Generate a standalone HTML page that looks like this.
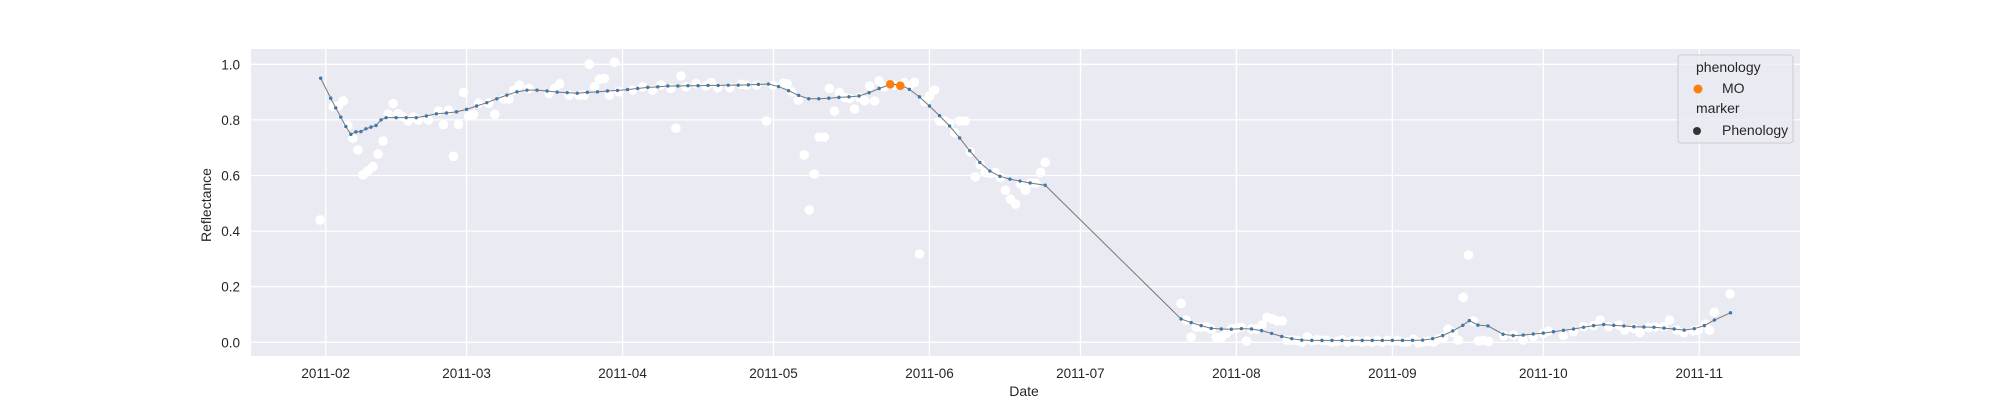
<!DOCTYPE html>
<html><head><meta charset="utf-8"><style>
body{margin:0;background:#fff}
svg text{font-family:"Liberation Sans",Arial,sans-serif;fill:#262626}
</style></head><body>
<svg id="chart" width="2000" height="400" xmlns="http://www.w3.org/2000/svg">
<rect x="251" y="49" width="1549" height="307" fill="#EAEAF2"/>
<g id="grid"></g>
<g id="obs"></g>
<g id="line"></g>
<g id="pheno"></g>
<g id="ticks"></g>
<text transform="translate(211,205) rotate(-90)" text-anchor="middle" font-size="14">Reflectance</text>
<text x="1024" y="396" text-anchor="middle" font-size="14">Date</text>
<g>
<rect x="1678" y="55" width="115" height="88" rx="3" fill="#EAEAF2" fill-opacity="0.8" stroke="#cccccc"/>
<text x="1696" y="72" font-size="14">phenology</text>
<circle cx="1698" cy="89" r="4.5" fill="#ff7f0e"/>
<text x="1722" y="93" font-size="14">MO</text>
<text x="1696" y="113" font-size="14">marker</text>
<circle cx="1697" cy="131" r="4" fill="#333"/>
<text x="1722" y="135" font-size="14">Phenology</text>
</g>
</svg>
<script>
// days since 2011-02-01
const xTickDays=[0,28,59,89,120,150,181,212,242,273];
const xTickLabels=["2011-02","2011-03","2011-04","2011-05","2011-06","2011-07","2011-08","2011-09","2011-10","2011-11"];
const yTicks=[0,0.2,0.4,0.6,0.8,1.0];
const yTickLabels=["0.0","0.2","0.4","0.6","0.8","1.0"];
const lineDays1=[-1,1,2,3,4,5,6,7,8,9,10,11,12,14,16,18,20,22,24,26,28,30,32,34,36,38,40,42,44,46,48,50,52,54,56,58,60,62,64,66,68,70,72,74,76,78,80,82,84,86,88,90,92,94,96,98,100,102,104,106,108,110,112,114,116,118,120,122,124,126,128,130,132,134,136,138,140,143];
const lineVals1=[0.95,0.878,0.843,0.81,0.776,0.748,0.757,0.758,0.768,0.774,0.78,0.80,0.808,0.808,0.808,0.808,0.814,0.822,0.825,0.829,0.838,0.85,0.862,0.876,0.889,0.901,0.907,0.907,0.904,0.90,0.898,0.896,0.899,0.901,0.904,0.906,0.909,0.913,0.917,0.919,0.922,0.922,0.923,0.923,0.924,0.924,0.925,0.925,0.926,0.928,0.929,0.920,0.905,0.888,0.876,0.876,0.878,0.881,0.883,0.886,0.898,0.913,0.926,0.928,0.910,0.883,0.850,0.815,0.778,0.735,0.689,0.647,0.616,0.597,0.587,0.580,0.573,0.565];
const lineDays2=[170,172,174,176,178,180,182,184,186,188,190,192,194,196,198,200,202,204,206,208,210,212,214,216,218,220,222,224,226,227.3,229,231,234,236,238,240,242,244,246,248,250,252,254,256,258,260,262,264,266,268,270,272,274,276,279.2];
const lineVals2=[0.084,0.071,0.060,0.050,0.048,0.047,0.049,0.048,0.042,0.032,0.021,0.013,0.008,0.007,0.007,0.007,0.007,0.007,0.007,0.007,0.007,0.007,0.007,0.007,0.008,0.013,0.024,0.041,0.061,0.078,0.062,0.059,0.029,0.024,0.026,0.030,0.033,0.038,0.043,0.048,0.054,0.060,0.064,0.061,0.059,0.056,0.055,0.054,0.051,0.048,0.044,0.049,0.060,0.080,0.106];
const obsDays=[-1.1,1.5,3.5,2.5,4.4,5.4,6.4,7.4,8.4,9.4,10.4,11.4,12.4,13.4,14.4,15.4,16.4,17.4,18.4,20.4,22.4,23.4,24.4,25.4,26.4,27.4,28.4,29.4,30.4,32.4,33.6,35.4,36.4,37.4,38.5,40.4,44.4,45.5,46.5,48.4,50.4,51.4,52.4,53.4,54.4,55.4,56.4,57.4,58.3,61,63,65,66.6,68.6,69.6,70.6,71.6,73.6,75.6,76.6,77.9,80.3,82.6,83.6,85.6,87.6,88.9,90.9,91.7,92.6,93.9,95.1,96.1,97.1,98.1,99.1,100.1,101.1,102.1,103.1,104.1,105.1,106.1,107.1,108.1,109.1,110,111,113,115,116,117,118,119,120,121,122,123,124,125,126,127.1,128.1,129.1,130.1,131.1,132.1,133.1,134.1,135.1,136.1,137.1,138.1,139.1,140.1,141.1,142.1,143,170,171,172,173,174,175,176,177,178,179,180,181,182,183,184,185,186.1,187.1,188.1,189.1,190.1,191.1,192.1,193.1,194.1,195.1,196,197,198,199,200,201,202,203,204,205,206,207,208,209,210,211,212,213,214,215,216.2,217.2,218.2,219.2,220.2,221.2,222.2,223.1,224.1,225.1,226.1,227.1,228.1,229.1,230.1,231.1,234.1,236.1,238,240,242,243,246,248,250,252,253.3,255,257,258.2,260,261.2,262.9,264.2,265.9,267.1,268.5,269.9,271.8,272.8,274.2,275,276,279.1];
const obsVals=[0.44,0.848,0.868,0.85,0.78,0.734,0.692,0.602,0.617,0.632,0.677,0.724,0.821,0.859,0.822,0.811,0.796,0.81,0.799,0.80,0.832,0.783,0.835,0.669,0.784,0.899,0.814,0.819,0.86,0.86,0.82,0.875,0.875,0.907,0.925,0.913,0.895,0.913,0.930,0.889,0.889,0.889,1.0,0.919,0.946,0.949,0.889,1.007,0.901,0.907,0.919,0.907,0.925,0.913,0.77,0.958,0.919,0.93,0.922,0.934,0.916,0.916,0.928,0.925,0.925,0.796,0.925,0.931,0.93,0.901,0.871,0.674,0.476,0.605,0.738,0.738,0.913,0.832,0.898,0.881,0.877,0.839,0.881,0.869,0.922,0.868,0.940,0.919,0.925,0.934,0.922,0.935,0.318,0.866,0.886,0.907,0.796,0.796,0.787,0.754,0.796,0.796,0.685,0.595,0.64,0.611,0.607,0.611,0.593,0.547,0.515,0.497,0.569,0.547,0.572,0.572,0.611,0.647,0.140,0.080,0.019,0.054,0.054,0.056,0.047,0.018,0.018,0.032,0.048,0.05,0.054,0.004,0.048,0.048,0.062,0.09,0.084,0.077,0.077,0.008,0.008,0.006,0.001,0.02,0.006,0.009,0.007,0.007,0.001,0.003,0.009,0.001,0.005,0.005,0.001,0.005,0.001,0.007,0.001,0.007,0.004,0.007,0.001,0.001,0.011,-0.002,0.001,0.004,0.001,0.012,0.018,0.047,0.035,0.008,0.162,0.314,0.076,0.005,0.007,0.003,0.024,0.026,0.008,0.02,0.032,0.04,0.024,0.038,0.056,0.06,0.08,0.056,0.062,0.044,0.05,0.035,0.053,0.055,0.057,0.08,0.044,0.035,0.041,0.044,0.065,0.044,0.108,0.174];
const phenoDays=[112.2,114.2];
const phenoVals=[0.928,0.923];

const NS="http://www.w3.org/2000/svg";
function X(d){return 325.7+d*5.0315;}
function Y(v){return 342.3-v*278;}
function mk(tag,attrs,parent){const e=document.createElementNS(NS,tag);for(const k in attrs)e.setAttribute(k,attrs[k]);parent.appendChild(e);return e;}
const grid=document.getElementById('grid'),ticks=document.getElementById('ticks');
xTickDays.forEach((d,i)=>{
  const l=mk('line',{x1:X(d),x2:X(d),y1:49,y2:356,stroke:'#fff','stroke-width':1.3},grid);
  
  
  const t=mk('text',{x:X(d),y:378,'text-anchor':'middle','font-size':13.5},ticks);
  t.textContent=xTickLabels[i];
  
  
});
yTicks.forEach((v,i)=>{
  const l=mk('line',{x1:251,x2:1800,y1:Y(v),y2:Y(v),stroke:'#fff','stroke-width':1.3},grid);
  
  
  const t=mk('text',{x:240,y:Y(v)+5,'text-anchor':'end','font-size':13.5},ticks);
  t.textContent=yTickLabels[i];
  
  
});
const obs=document.getElementById('obs');
obsDays.forEach((d,i)=>{
  const c=mk('circle',{cx:X(d),cy:Y(obsVals[i]),r:4.8,fill:'#fff'},obs);
  
  
});
const lg=document.getElementById('line');
const all=lineDays1.map((d,i)=>[d,lineVals1[i]]).concat(lineDays2.map((d,i)=>[d,lineVals2[i]]));
const p=mk('polyline',{points:all.map(a=>X(a[0])+','+Y(a[1])).join(' '),fill:'none',stroke:'#777','stroke-width':1},lg);


all.forEach(a=>{
  const c=mk('circle',{cx:X(a[0]),cy:Y(a[1]),r:1.7,fill:'#3f78a8'},lg);
  
  
});
const ph=document.getElementById('pheno');
phenoDays.forEach((d,i)=>{
  const c=mk('circle',{cx:X(d),cy:Y(phenoVals[i]),r:4.3,fill:'#ff7f0e'},ph);
  
  
});
</script>
</body></html>
